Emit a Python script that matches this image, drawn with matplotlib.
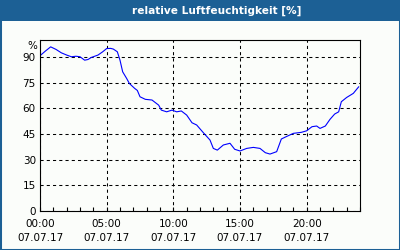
import matplotlib
matplotlib.use("Agg")
import matplotlib.pyplot as plt
from matplotlib.patches import Rectangle

title = "relative Luftfeuchtigkeit [%]"
hours = [0.0, 0.4, 0.8, 1.2, 1.6, 2.0, 2.35, 2.7, 3.0, 3.35, 3.6, 3.85, 4.35, 4.7,
         5.0, 5.3, 5.5, 5.8, 6.0, 6.2, 6.5, 6.7, 7.1, 7.3, 7.5, 7.9, 8.4, 8.9, 9.1,
         9.5, 9.9, 10.25, 10.6, 11.0, 11.4, 11.75, 12.25, 12.75, 13.0, 13.3, 13.75,
         14.25, 14.6, 15.0, 15.5, 16.0, 16.5, 16.9, 17.25, 17.75, 18.1, 18.5, 19.0,
         19.6, 20.0, 20.4, 20.75, 21.0, 21.4, 21.75, 22.1, 22.4, 22.6, 23.0, 23.5, 23.9]
humidity = [90.8, 93.5, 96.0, 94.5, 92.5, 91.2, 90.2, 90.5, 90.2, 88.2, 88.6, 89.8,
            91.2, 93.1, 95.0, 95.1, 94.7, 93.1, 88.2, 81.4, 77.5, 74.6, 71.7, 70.5,
            66.8, 65.3, 64.9, 61.9, 59.0, 58.0, 59.0, 58.0, 58.5, 56.1, 51.6, 50.3,
            45.8, 41.5, 36.6, 35.6, 38.6, 39.6, 36.1, 35.1, 36.6, 37.2, 36.6, 34.1,
            33.3, 34.7, 42.1, 43.6, 45.4, 46.0, 46.9, 49.3, 49.7, 48.3, 49.7, 53.6,
            56.7, 58.0, 63.9, 66.4, 68.8, 72.6]
x_ticks = [0, 5, 10, 15, 20]
x_labels = ["00:00\n07.07.17", "05:00\n07.07.17", "10:00\n07.07.17",
            "15:00\n07.07.17", "20:00\n07.07.17"]
y_ticks = [0, 15, 30, 45, 60, 75, 90]
y_labels = ["0", "15", "30", "45", "60", "75", "90"]

W, H = 400, 250
bg = "#fbfdfa"
bar = "#1c6095"

fig = plt.figure(figsize=(4, 2.5), dpi=100, facecolor=bg)

# frame and title bar
fig.patches.append(Rectangle((0, 0), 1, 1, transform=fig.transFigure,
                             facecolor="none", edgecolor=bar, linewidth=2.2))
fig.patches.append(Rectangle((0, 1 - 21 / H), 1, 21 / H, transform=fig.transFigure,
                             facecolor=bar, edgecolor="none"))
fig.text(217 / W, 1 - 10.5 / H, title, color="white", fontsize=7.6,
         fontweight="bold", ha="center", va="center")

ax = fig.add_axes([40 / W, 1 - 211 / H, 320 / W, 171 / H], facecolor=bg)
ax.plot(hours, humidity, color="#0000ff", linewidth=0.8)
ax.set_xlim(0, 24)
ax.set_ylim(0, 100)

ax.set_xticks(x_ticks)
ax.set_xticklabels(x_labels, fontsize=7.5, linespacing=1.45)
ax.set_xticks(range(0, 25), minor=True)
ax.set_yticks(y_ticks)
ax.set_yticklabels(y_labels, fontsize=7.5)
ax.tick_params(axis="x", which="both", direction="in", length=3, width=0.8,
               pad=6, color="black")
ax.tick_params(axis="y", which="both", length=0, pad=3)
ax.text(-0.01, 96.5, "%", transform=ax.get_yaxis_transform(), ha="right",
        va="center", fontsize=7.5)

ax.grid(True, which="major", color="black", linestyle=(0, (3, 3)), linewidth=0.75)
for s in ax.spines.values():
    s.set_color("black")
    s.set_linewidth(0.8)

fig.savefig("out.png", dpi=100, facecolor=bg)
